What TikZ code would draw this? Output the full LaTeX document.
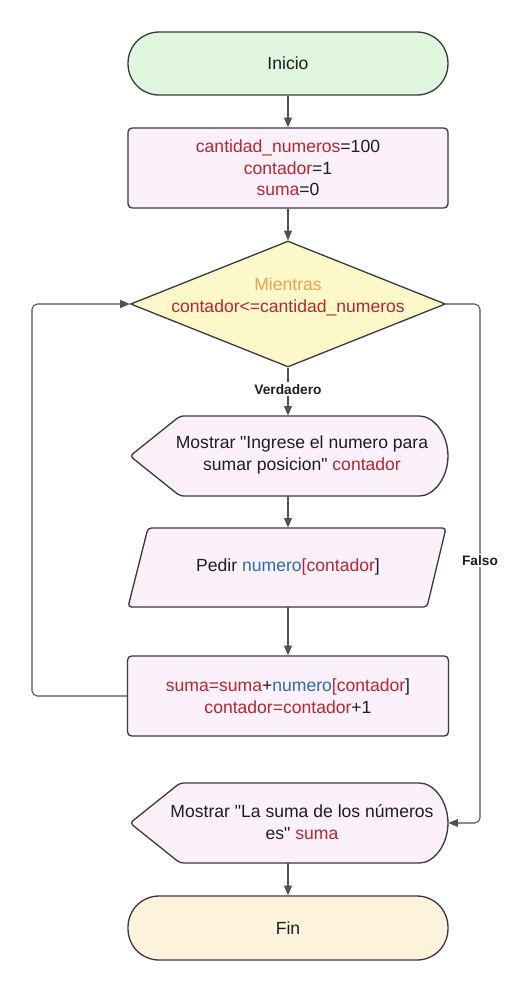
\documentclass[tikz,border=0pt]{standalone}
\usepackage{fontspec}
\setmainfont{Liberation Sans}
\usetikzlibrary{shapes.geometric,arrows.meta}
\definecolor{contorno}{RGB}{58,58,64}
\definecolor{gris}{RGB}{80,80,86}
\definecolor{negro}{RGB}{30,30,34}
\definecolor{rojo}{RGB}{186,38,46}
\definecolor{naranja}{RGB}{232,164,78}
\definecolor{azul}{RGB}{42,108,178}
\definecolor{verdeclaro}{RGB}{224,246,222}
\definecolor{rosa}{RGB}{252,240,250}
\definecolor{amarillo}{RGB}{252,248,202}
\definecolor{crema}{RGB}{253,243,218}
\tikzset{
  base/.style={draw=contorno, line width=0.75pt, text=negro, align=center,
    font=\fontsize{10}{12.3}\selectfont},
  terminal/.style={base, rounded corners=0.62cm, minimum width=6.4cm, minimum height=1.26cm},
  proceso/.style={base, fill=rosa, rounded corners=2.3pt, minimum width=6.4cm, minimum height=1.6cm},
  decision/.style={diamond, draw=contorno, line width=0.75pt, fill=amarillo, inner sep=0pt,
    minimum width=6.3cm, minimum height=2.52cm},
  hueco/.style={inner sep=0pt, minimum width=6.36cm, minimum height=1.6cm},
  texto/.style={text=negro, align=center, font=\fontsize{10}{12.3}\selectfont},
  forma/.style={draw=contorno, line width=0.75pt, fill=rosa, rounded corners=2pt},
  flecha/.style={draw=gris, line width=0.6pt, -{Triangle[length=5.5pt,width=4.5pt]}},
  etiqueta/.style={fill=white, text=negro, inner sep=1pt, font=\fontsize{7.8}{9}\selectfont\bfseries}
}
\newcommand{\comillas}{\textquotedbl}
\begin{document}
\begin{tikzpicture}[x=0.02cm, y=-0.02cm]
\fill[white] (0,0) rectangle (519,992);
\useasboundingbox (0,0) rectangle (519,992);

% formas de mostrar y pedir
\draw[forma] (130,456) -- (180,416) -- (416,416) arc[start angle=90, end angle=-90, x radius=0.64cm, y radius=0.8cm] -- (180,496) -- cycle;
\draw[forma] (148,528) -- (446,528) -- (427,607) -- (128,607) -- cycle;
\draw[forma] (130,823) -- (180,783) -- (416,783) arc[start angle=90, end angle=-90, x radius=0.64cm, y radius=0.8cm] -- (180,863) -- cycle;

\node[terminal, fill=verdeclaro] (inicio) at (288,63.5) {Inicio};
\node[proceso] (asignar) at (288,168) {\textcolor{rojo}{cantidad\_numeros}=100\\ \textcolor{rojo}{contador}=1\\ \textcolor{rojo}{suma}=0};
\node[decision] (mientras) at (288,304) {};
\node[texto] (condicion) at (288,297) {\textcolor{naranja}{Mientras}\\ \textcolor{rojo}{contador<=cantidad\_numeros}};
\node[hueco] (mostrar) at (289,456) {};
\node[texto] (mostrartxt) at (302,455) {Mostrar \comillas Ingrese el numero para\\ sumar posicion\comillas{} \textcolor{rojo}{contador}};
\node[hueco, minimum height=1.58cm] (pedir) at (287,567.5) {};
\node[texto] (pedirtxt) at (288,567) {Pedir \textcolor{azul}{numero}\textcolor{rojo}{[contador}]};
\node[proceso, minimum width=6.42cm] (sumar) at (288,696) {\textcolor{rojo}{suma=suma}+\textcolor{azul}{numero}\textcolor{rojo}{[contador}]\\ \textcolor{rojo}{contador=contador}+1};
\node[hueco] (resultado) at (289,823) {};
\node[texto] (resultadotxt) at (302,822) {Mostrar \comillas La suma de los números\\ es\comillas{} \textcolor{rojo}{suma}};
\node[terminal, fill=crema, minimum height=1.28cm] (fin) at (288,928) {Fin};

% conectores
\draw[flecha] (inicio) -- (asignar);
\draw[flecha] (asignar) -- (mientras);
\draw[flecha] (mientras.south) -- node[etiqueta, pos=0.45] {Verdadero} (mostrar.north -| mientras.south);
\draw[flecha] (mostrar.south -| inicio) -- (pedir.north -| inicio);
\draw[flecha] (pedir.south -| inicio) -- (sumar.north);
\draw[flecha, rounded corners=3pt] (sumar.west) -- (32,696) -- (32,304) -- (mientras.west);
\draw[flecha, rounded corners=3pt] (mientras.east) -- (480,304) -- node[etiqueta, pos=0.494] {Falso} (480,823) -- (resultado.east);
\draw[flecha] (resultado.south -| inicio) -- (fin);
\end{tikzpicture}
\end{document}
